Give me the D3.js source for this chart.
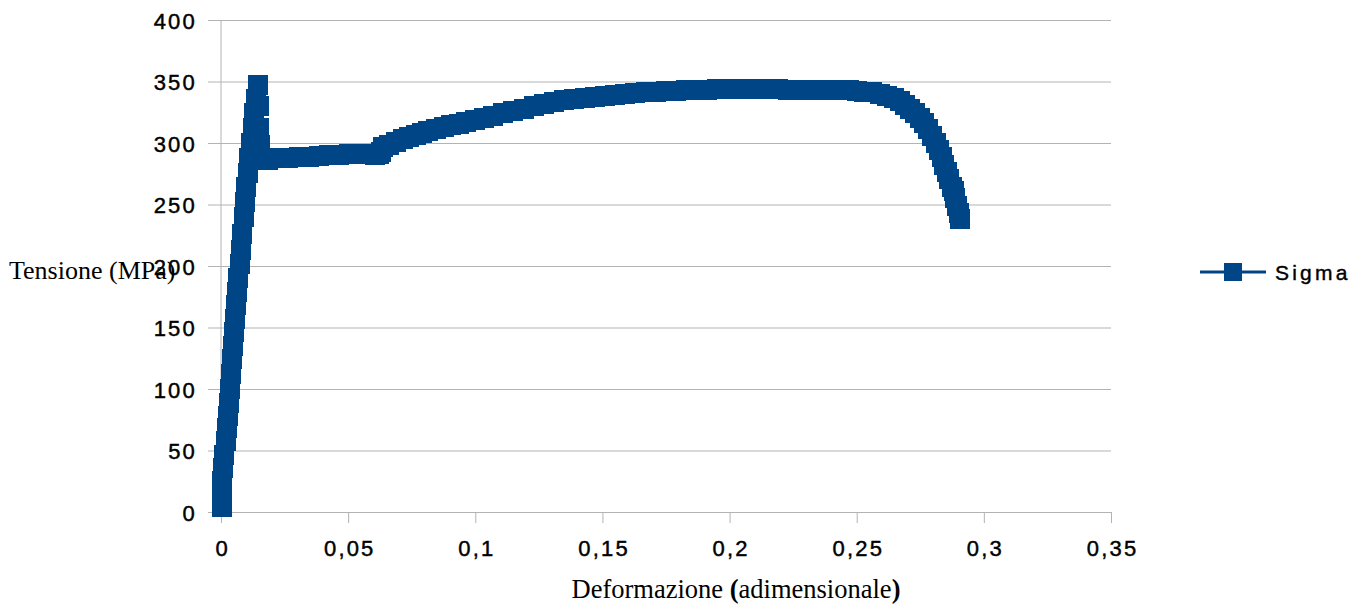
<!DOCTYPE html>
<html>
<head>
<meta charset="utf-8">
<script src="https://cdn.jsdelivr.net/npm/d3@7"></script>
<style>
  body { margin: 0; background: #fff; }
</style>
</head>
<body>
<svg id="chart" width="1361" height="608"></svg>
<script>
// Tensile test: engineering strain (dimensionless) vs stress (MPa)
const strain = [
  0.0003, 0.0004, 0.0005, 0.0008, 0.0011, 0.0019, 0.0023, 0.0026, 0.0031, 0.0036,
  0.0040, 0.0043, 0.0048, 0.0052, 0.0056, 0.0059, 0.0064, 0.0068, 0.0073, 0.0078,
  0.0084, 0.0090, 0.0095, 0.0100, 0.0105, 0.0111, 0.0118, 0.0124, 0.0131, 0.0138,
  0.0146, 0.0149, 0.0150, 0.0152, 0.0156, 0.0165, 0.0185, 0.0225, 0.0265, 0.0305,
  0.0345, 0.0385, 0.0425, 0.0465, 0.0505, 0.0545, 0.0585, 0.0605, 0.0620, 0.0630,
  0.0638, 0.0660, 0.0690, 0.0715, 0.0740, 0.0765, 0.0790, 0.0815, 0.0845, 0.0875,
  0.0905, 0.0935, 0.0965, 0.1000, 0.1035, 0.1070, 0.1110, 0.1150, 0.1190, 0.1230,
  0.1270, 0.1310, 0.1350, 0.1390, 0.1430, 0.1470, 0.1510, 0.1550, 0.1590, 0.1630,
  0.1670, 0.1710, 0.1750, 0.1790, 0.1830, 0.1870, 0.1910, 0.1950, 0.1990, 0.2030,
  0.2070, 0.2110, 0.2150, 0.2190, 0.2230, 0.2270, 0.2310, 0.2350, 0.2390, 0.2430,
  0.2470, 0.2500, 0.2530, 0.2560, 0.2590, 0.2620, 0.2645, 0.2670, 0.2690, 0.2710,
  0.2730, 0.2750, 0.2765, 0.2780, 0.2795, 0.2810, 0.2822, 0.2834, 0.2845, 0.2855,
  0.2864, 0.2873, 0.2881, 0.2888, 0.2895, 0.2901, 0.2905
];
const stress = [
  4, 14, 25, 36, 46, 58, 68, 78, 89, 100,
  112, 124, 135, 146, 157, 168, 179, 190, 202, 213,
  226, 240, 252, 264, 276, 288, 300, 312, 324, 336,
  347, 330, 312, 298, 288, 286.5, 286.5, 287.5, 288, 288.5,
  289, 289.5, 290, 290.5, 291, 291, 291, 290.5, 291, 293,
  297, 298.5, 301, 303, 305, 306.8, 308.5, 310, 311.5, 313,
  314.5, 315.8, 317.2, 319, 320.5, 322, 324, 326, 328, 330,
  332, 333.5, 334.8, 335.8, 336.6, 337.5, 338.4, 339.2, 339.8, 340.5,
  341.1, 341.6, 342.1, 342.5, 342.9, 343.2, 343.4, 343.5, 343.6, 343.6,
  343.6, 343.6, 343.5, 343.5, 343.4, 343.4, 343.3, 343.2, 343.1, 343.0,
  342.8, 342.3, 341.8, 341.1, 340.2, 338.5, 336.5, 333.8, 331.2, 328,
  324.5, 320.5, 316, 311, 305.5, 300, 294.5, 288.5, 282.5, 276.5,
  270.5, 264, 261, 255, 249, 243, 238
];

const xTicks = [0, 0.05, 0.1, 0.15, 0.2, 0.25, 0.3, 0.35];
const xTickLabels = ["0", "0,05", "0,1", "0,15", "0,2", "0,25", "0,3", "0,35"];
const yTicks = [0, 50, 100, 150, 200, 250, 300, 350, 400];
const seriesName = "Sigma";
const xTitle = "Deformazione (adimensionale)";
const yTitle = "Tensione (MPa)";

const points = strain.map((s, i) => ({ s, v: stress[i] }));

const svg = d3.select("#chart");
const plot = { left: 221, right: 1111, top: 20, bottom: 512 };
const blue = "#004586";
const gridColor = "#b3b3b3";
const sansFont = "'Liberation Sans', Arial, sans-serif";
const serifFont = "'Liberation Serif', 'Times New Roman', serif";

const x = d3.scaleLinear().domain([0, 0.35]).range([plot.left, plot.right]);
const y = d3.scaleLinear().domain([0, 400]).range([plot.bottom, plot.top]);

// Slightly heavier sans labels
function styleTickText(sel) {
  sel.attr("fill", "#000")
    .attr("stroke", "#000")
    .attr("stroke-width", 0.45)
    .style("font-family", sansFont)
    .style("font-size", "22px")
    .style("letter-spacing", "2.2px");
}

// Horizontal grid lines + y tick labels (axis anchored at right edge, ticks run leftwards)
const yAxis = d3.axisLeft(y)
  .tickValues(yTicks)
  .tickSize(plot.right - plot.left + 13)
  .tickPadding(11)
  .tickFormat(d => String(d));
const gy = svg.append("g")
  .attr("transform", `translate(${plot.right},0)`)
  .call(yAxis);
gy.select(".domain").remove();
gy.selectAll(".tick line").attr("stroke", gridColor).attr("stroke-width", 1);
gy.selectAll(".tick text").attr("dy", "0.38em").call(styleTickText);

// X axis with tick marks below the baseline
const xAxis = d3.axisBottom(x)
  .tickValues(xTicks)
  .tickSize(11)
  .tickSizeOuter(0)
  .tickPadding(17)
  .tickFormat((d, i) => xTickLabels[i]);
const gx = svg.append("g")
  .attr("transform", `translate(0,${plot.bottom})`)
  .call(xAxis);
gx.select(".domain").attr("stroke", gridColor);
gx.selectAll(".tick line").attr("stroke", gridColor);
gx.selectAll(".tick text").attr("dx", "1.1px").call(styleTickText);

// Vertical axis line at strain = 0
svg.append("line")
  .attr("x1", x(0)).attr("x2", x(0))
  .attr("y1", y(400)).attr("y2", y(0))
  .attr("stroke", gridColor);

// Series line and square markers
const line = d3.line().x(d => x(d.s)).y(d => y(d.v));
svg.append("path")
  .datum(points)
  .attr("d", line)
  .attr("fill", "none")
  .attr("stroke", blue)
  .attr("stroke-width", 3);

const m = 20;
svg.append("g")
  .selectAll("rect")
  .data(points)
  .join("rect")
  .attr("x", d => x(d.s) - m / 2)
  .attr("y", d => y(d.v) - m / 2)
  .attr("width", m)
  .attr("height", m)
  .attr("fill", blue)
  .attr("shape-rendering", "crispEdges");

// Axis titles
svg.append("text")
  .attr("x", 9)
  .attr("y", 279)
  .attr("fill", "#000")
  .style("font-family", serifFont)
  .style("font-size", "26px")
  .text(yTitle);

const xt = svg.append("text")
  .attr("x", 736)
  .attr("y", 598)
  .attr("text-anchor", "middle")
  .attr("fill", "#000")
  .style("font-family", serifFont)
  .style("font-size", "26.5px");
const xTitleParts = xTitle.match(/^([^(]*)(\()([^)]*)(\))$/);
xt.append("tspan").text(xTitleParts[1]);
xt.append("tspan").style("font-weight", "bold").text(xTitleParts[2]);
xt.append("tspan").text(xTitleParts[3]);
xt.append("tspan").style("font-weight", "bold").text(xTitleParts[4]);

// Legend
const legend = svg.append("g").attr("transform", "translate(1200,272)");
legend.append("line")
  .attr("x1", 0).attr("x2", 66)
  .attr("y1", 0).attr("y2", 0)
  .attr("stroke", blue)
  .attr("stroke-width", 3);
legend.append("rect")
  .attr("x", 24).attr("y", -9)
  .attr("width", 18).attr("height", 18)
  .attr("fill", blue);
legend.append("text")
  .attr("x", 75)
  .attr("y", 8)
  .attr("fill", "#000")
  .attr("stroke", "#000")
  .attr("stroke-width", 0.4)
  .style("font-family", sansFont)
  .style("font-size", "21px")
  .style("letter-spacing", "3.2px")
  .text(seriesName);
</script>
</body>
</html>
